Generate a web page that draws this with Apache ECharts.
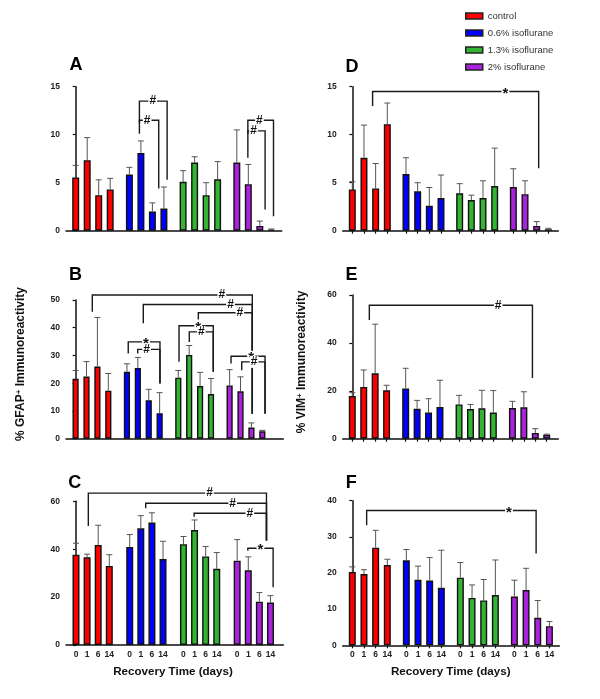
<!DOCTYPE html>
<html><head><meta charset="utf-8">
<script src="https://cdn.jsdelivr.net/npm/echarts@6/dist/echarts.min.js"></script>
<style>html,body{margin:0;padding:0;background:#fff}#c{width:600px;height:699px}</style>
</head><body><div id="c"></div>
<script>
const FF = '"Liberation Sans", Arial, Helvetica, sans-serif';
const groups = ['control', '0.6% isoflurane', '1.3% isoflurane', '2% isoflurane'];
const days = ['0', '1', '6', '14'];
const colors = ['#ff0000', '#0000ff', '#33b533', '#aa22dd'];

// ---- Panel A (GFAP) : means and upper error-bar ends, per group x day
const A_means = [[5.55, 7.35, 3.7, 4.3], [5.85, 8.1, 2.0, 2.3], [5.1, 7.1, 3.7, 5.35], [7.1, 4.85, 0.5, 0.12]];
const A_upper = [[6.8, 9.7, 5.3, 5.45], [6.6, 9.35, 2.9, 4.55], [6.25, 7.7, 5.0, 7.2], [10.5, 6.9, 1.0, 0.18]];
// brackets: [groupA, dayPosA, groupB, dayPosB, level, endA, endB, mark, markFrac]
const A_brackets = [
  [1, 0.87, 1, 3.28, 13.5, 10.1, 5.3, '#', 0.48],
  [1, 0.87, 1, 2.55, 11.5, 11.2, 4.4, '#', 0.4],
  [3, 0.96, 3, 3.19, 11.5, 7.6, 1.5, '#', 0.45],
  [3, 0.96, 3, 2.46, 10.4, 10.1, 2.2, '#', 0.33]
];

// ---- Panel B
const B_means = [[21.6, 22.4, 26.0, 17.3], [24.1, 25.5, 13.9, 9.2], [22.0, 30.2, 19.0, 16.1], [19.2, 17.1, 4.0, 2.65]];
const B_upper = [[24.6, 27.8, 43.7, 23.5], [27.0, 29.3, 17.8, 16.6], [24.6, 33.6, 23.9, 21.7], [24.9, 22.3, 5.7, 3.0]];
const B_brackets = [
  [0, 1.53, 3, 2.08, 51.8, 45.8, 9.0, '#', 0.81],
  [1, 1.5, 3, 2.08, 48.4, 41.6, 9.0, '#', 0.8],
  [2, 1.84, 3, 2.08, 45.4, 43.0, 9.0, '#', 0.77],
  [2, 0.07, 2, 3.21, 40.7, 27.7, 24.1, '*', 0.56],
  [2, 1.01, 2, 3.21, 38.5, 34.9, 24.1, '#', 0.5],
  [1, 0.12, 1, 3.03, 34.9, 30.7, 19.9, '*', 0.56],
  [1, 0.99, 1, 3.03, 32.2, 30.7, 19.9, '#', 0.4],
  [3, 0.13, 3, 3.25, 29.7, 27.1, 9.0, '*', 0.59],
  [3, 1.11, 3, 3.25, 27.7, 24.7, 9.0, '#', 0.53]
];

// ---- Panel C
const C_means = [[37.7, 36.6, 41.8, 33.0], [40.9, 48.7, 51.1, 35.9], [42.1, 48.0, 37.0, 31.8], [35.2, 31.2, 18.1, 17.7]];
const C_upper = [[42.5, 37.9, 50.0, 37.7], [46.1, 54.0, 55.2, 43.3], [45.3, 52.2, 41.1, 38.6], [44.0, 36.8, 21.9, 20.6]];
const C_brackets = [
  [0, 1.11, 3, 2.64, 63.4, 49.7, 43.6, '#', 0.68],
  [1, 1.44, 3, 2.64, 59.2, 57.1, 43.6, '#', 0.72],
  [2, 0.96, 3, 2.64, 55.0, 53.6, 43.6, '#', 0.77],
  [3, 0.96, 3, 3.24, 40.4, 39.4, 24.1, '*', 0.5]
];

// ---- Panel D (VIM)
const D_means = [[4.3, 7.6, 4.4, 11.1], [5.9, 4.1, 2.6, 3.4], [3.9, 3.2, 3.4, 4.65], [4.55, 3.8, 0.5, 0.15]];
const D_upper = [[5.1, 11.0, 7.0, 13.3], [7.6, 5.0, 4.5, 5.8], [4.9, 3.7, 5.2, 8.6], [6.45, 5.2, 0.95, 0.25]];
const D_brackets = [[0, 1.74, 3, 2.17, 14.5, 13.0, 6.5, '*', 0.8]];

// ---- Panel E
const E_means = [[17.8, 21.6, 27.3, 20.2], [21.0, 12.5, 10.9, 13.2], [14.3, 12.4, 12.7, 10.9], [12.8, 13.1, 2.4, 1.7]];
const E_upper = [[19.2, 28.7, 47.8, 22.3], [29.4, 16.0, 16.7, 24.4], [18.1, 14.3, 20.2, 20.1], [15.6, 19.6, 4.2, 1.9]];
const E_brackets = [[0, 1.49, 3, 1.75, 55.7, 49.6, 25.3, '#', 0.79]];

// ---- Panel F
const F_means = [[20.3, 19.7, 27.0, 22.2], [23.5, 18.1, 17.9, 15.9], [18.7, 13.1, 12.4, 13.9], [13.5, 15.3, 7.6, 5.3]];
const F_upper = [[21.7, 20.9, 31.8, 23.8], [26.5, 21.9, 24.3, 26.3], [22.9, 16.7, 18.2, 23.6], [18.0, 21.3, 12.4, 6.6]];
const F_brackets = [[0, 1.23, 3, 1.86, 37.3, 33.2, 25.4, '*', 0.84]];

// ---- layout (pixels) per panel
const panels = [
  {means: A_means, upper: A_upper, brackets: A_brackets, ymax: 15, interval: 5, left: 66, right: 281.7, top: 86.7, bottom: 230.7, first: 75.7, spacing: 11.5, stride: 4.67, bw: 7, ticks: false, labels: false},
  {means: B_means, upper: B_upper, brackets: B_brackets, ymax: 50, interval: 10, left: 66, right: 283.3, top: 300, bottom: 438.7, first: 75.6, spacing: 10.9, stride: 4.71, bw: 6.2, ticks: false, labels: false},
  {means: C_means, upper: C_upper, brackets: C_brackets, ymax: 60, interval: 20, left: 66, right: 283.3, top: 501.3, bottom: 645, first: 76, spacing: 11.1, stride: 4.84, bw: 7, ticks: false, labels: true},
  {means: D_means, upper: D_upper, brackets: D_brackets, ymax: 15, interval: 5, left: 342.7, right: 558.3, top: 86.7, bottom: 230.7, first: 352.3, spacing: 11.67, stride: 4.6, bw: 7, ticks: true, labels: false},
  {means: E_means, upper: E_upper, brackets: E_brackets, ymax: 60, interval: 20, left: 342.7, right: 558.3, top: 295, bottom: 438.7, first: 352.3, spacing: 11.43, stride: 4.67, bw: 7, ticks: true, labels: false},
  {means: F_means, upper: F_upper, brackets: F_brackets, ymax: 40, interval: 10, left: 342.7, right: 559.3, top: 500.7, bottom: 645.3, first: 352.3, spacing: 11.67, stride: 4.63, bw: 7, ticks: true, labels: true}
];

const grid = [], xAxis = [], yAxis = [], series = [];
panels.forEach((P, i) => {
  const pos = (g, t) => g * P.stride + t;
  const barPos = [], barLab = [];
  groups.forEach((_, g) => days.forEach((d, t) => { barPos.push(pos(g, t)); barLab.push(d); }));
  grid.push({left: P.left, top: P.top, width: P.right - P.left, height: P.bottom - P.top, outerBoundsMode: 'none', containLabel: false});
  xAxis.push({
    type: 'value', gridIndex: i,
    min: -(P.first - P.left) / P.spacing, max: (P.right - P.first) / P.spacing,
    splitLine: {show: false},
    axisLine: {show: true, onZero: false, lineStyle: {color: '#111', width: 1.5}},
    axisTick: {show: P.ticks, customValues: barPos, length: 3, inside: false, lineStyle: {color: '#111', width: 1.2}},
    axisLabel: {show: P.labels, customValues: barPos, margin: 5, fontSize: 8.5, fontWeight: 'bold', color: '#222', fontFamily: FF,
      formatter: v => { const k = barPos.findIndex(p => Math.abs(p - v) < 1e-6); return k >= 0 ? barLab[k] : ''; }}
  });
  yAxis.push({
    type: 'value', gridIndex: i, min: 0, max: P.ymax, interval: P.interval,
    splitLine: {show: false},
    axisLine: {show: true, lineStyle: {color: '#111', width: 1.5}},
    axisTick: {show: true, length: 3, lineStyle: {color: '#111', width: 1.2}},
    axisLabel: {fontSize: 8.5, fontWeight: 'bold', color: '#222', margin: 6, fontFamily: FF}
  });
  groups.forEach((name, g) => {
    series.push({
      type: 'bar', name, xAxisIndex: i, yAxisIndex: i, barWidth: P.bw, barGap: '-100%',
      itemStyle: {color: colors[g], borderColor: '#111', borderWidth: 1.4},
      emphasis: {disabled: true},
      data: P.means[g].map((v, t) => [pos(g, t), v]), z: 2
    });
  });
  const errData = [];
  groups.forEach((_, g) => days.forEach((_, t) => errData.push([pos(g, t), P.means[g][t], P.upper[g][t]])));
  series.push({
    type: 'custom', xAxisIndex: i, yAxisIndex: i, z: 3, silent: true, clip: false,
    data: errData,
    renderItem: (params, api) => {
      const a = api.coord([api.value(0), api.value(1)]);
      const b = api.coord([api.value(0), api.value(2)]);
      return {type: 'group', children: [
        {type: 'line', shape: {x1: a[0], y1: a[1], x2: b[0], y2: b[1]}, style: {stroke: '#555', lineWidth: 1}},
        {type: 'line', shape: {x1: b[0] - 3, y1: b[1], x2: b[0] + 3, y2: b[1]}, style: {stroke: '#555', lineWidth: 1}}
      ]};
    }
  });
  const brData = P.brackets.map(r => [pos(r[0], r[1]), pos(r[2], r[3]), r[4], r[5], r[6], r[8]]);
  series.push({
    type: 'custom', xAxisIndex: i, yAxisIndex: i, z: 4, silent: true, clip: false,
    data: brData,
    renderItem: (params, api) => {
      const xa = api.value(0), xb = api.value(1), lv = api.value(2);
      const pa = api.coord([xa, lv]), pb = api.coord([xb, lv]);
      const ea = api.coord([xa, api.value(3)]), eb = api.coord([xb, api.value(4)]);
      const mark = P.brackets[params.dataIndex][7];
      const tx = pa[0] + (pb[0] - pa[0]) * api.value(5);
      return {type: 'group', children: [
        {type: 'polyline', shape: {points: [ea, pa, pb, eb]}, style: {stroke: '#1a1a1a', lineWidth: 1.4, fill: null}},
        {type: 'text', x: tx, y: pa[1] + (mark === '*' ? 2 : 0), style: {
          text: mark, font: 'bold ' + (mark === '*' ? 15 : 12) + 'px ' + FF, fill: '#111',
          align: 'center', verticalAlign: 'middle', backgroundColor: '#fff', padding: [0, 1]}}
      ]};
    }
  });
});

const letters = [['A', 76, 65], ['D', 352, 66.7], ['B', 75.5, 275], ['E', 351.5, 275], ['C', 74.7, 483], ['F', 351.3, 483]];
const graphic = letters.map(l => ({type: 'text', x: l[1], y: l[2], style: {text: l[0], font: 'bold 18px ' + FF, fill: '#000', align: 'center', verticalAlign: 'middle'}}));
[[173, 671.7], [450.7, 671.7]].forEach(p => graphic.push({type: 'text', x: p[0], y: p[1], style: {text: 'Recovery Time (days)', font: 'bold 11.6px ' + FF, fill: '#111', align: 'center', verticalAlign: 'middle'}}));
const yTitles = [['% GFAP', ' Immunoreactivity', 21, 364], ['% VIM', ' Immunoreactivity', 302, 362]];
yTitles.forEach(t => graphic.push({type: 'text', x: t[2], y: t[3], rotation: Math.PI / 2, style: {
  text: '{a|' + t[0] + '}{s|+}{a|' + t[1] + '}', align: 'center', verticalAlign: 'middle',
  rich: {a: {fontSize: 12, fontWeight: 'bold', fontFamily: FF, fill: '#111'}, s: {fontSize: 8, fontWeight: 'bold', fontFamily: FF, fill: '#111', verticalAlign: 'top'}}
}}));

const chart = echarts.init(document.getElementById('c'), null, {renderer: 'canvas'});
chart.setOption({
  animation: false,
  backgroundColor: '#fff',
  legend: {
    data: groups, orient: 'vertical', left: 465, top: 10.5, padding: 0, icon: 'rect', itemWidth: 17, itemHeight: 6, itemGap: 6, itemTextGap: 8,
    itemStyle: {borderColor: '#222', borderWidth: 1.5},
    textStyle: {fontSize: 9.5, color: '#333', fontFamily: FF, lineHeight: 11}
  },
  grid, xAxis, yAxis, series, graphic
});
</script></body></html>
